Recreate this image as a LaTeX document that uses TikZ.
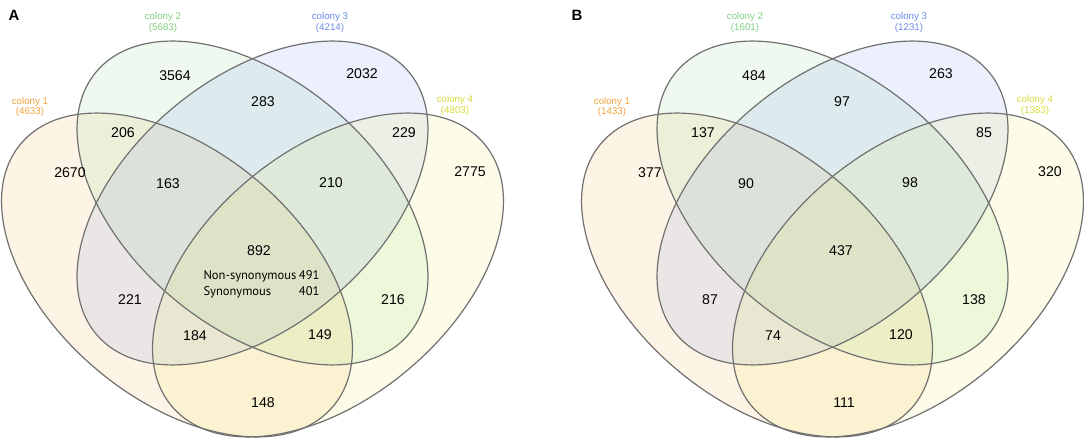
\documentclass[tikz,border=0pt]{standalone}
\usepackage{fontspec}
\setmainfont{Liberation Sans}
\newfontfamily\ptsans{PT Sans}

\definecolor{colA}{HTML}{F0A33A}
\definecolor{colB}{HTML}{7FCF80}
\definecolor{colC}{HTML}{6A8AE6}
\definecolor{colD}{HTML}{D8D83A}
\definecolor{fillA}{HTML}{F5A52A}
\definecolor{fillB}{HTML}{78D078}
\definecolor{fillC}{HTML}{5F85EE}
\definecolor{fillD}{HTML}{E6E640}
\definecolor{rim}{HTML}{707070}

% the four sets, same size, centres and tilts in px
\newcommand{\vennsets}{%
  \foreach \cx/\cy/\ang/\col in {177/167/-40/fillA, 252.5/239/-40/fillB, 252.5/239/40/fillC, 328/167/40/fillD}
    \fill[\col, fill opacity=0.12, shift={(\cx,\cy)}, rotate=\ang] (0,0) ellipse [x radius=204, y radius=124];
  \foreach \cx/\cy/\ang in {177/167/-40, 252.5/239/-40, 252.5/239/40, 328/167/40}
    \draw[rim, line width=0.9pt, shift={(\cx,\cy)}, rotate=\ang] (0,0) ellipse [x radius=204, y radius=124];
}

\begin{document}
\begin{tikzpicture}[x=0.75pt, y=0.75pt,
    num/.style={font=\fontsize{10.6}{12}\selectfont, inner sep=0pt},
    lab/.style={font=\fontsize{7.3}{7.9}\selectfont, align=center, inner sep=0pt},
    tag/.style={font=\bfseries\fontsize{11.2}{13}\selectfont, inner sep=0pt}]
\useasboundingbox (0,0) rectangle (1084,442);

% panel A
\begin{scope}
  \vennsets
  \node[tag] (A) at (14,427) {A};
  \node[lab, colA] (A-c1) at (30,335) {colony 1\\(4633)};
  \node[lab, colB] (A-c2) at (163,419.5) {colony 2\\(5683)};
  \node[lab, colC] (A-c3) at (330,419.5) {colony 3\\(4214)};
  \node[lab, colD] (A-c4) at (455,336.5) {colony 4\\(4803)};
  \foreach \reg/\x/\y/\v in {1/70/269/2670, 2/175/366/3564, 3/362/368/2032, 4/470/270/2775,
      12/123/309/206, 23/263/340/283, 34/404/309/229, 123/168/258/163, 234/331/259/210,
      13/130/142/221, 24/393/142/216, 134/195/106/184, 124/320/107/149, 14/263/39/148,
      1234/259/191/892}
    \node[num] (A\reg) at (\x,\y) {\v};
  \node[font=\ptsans\fontsize{9.4}{11.3}\selectfont, inner sep=0pt] (A-split) at (261.5,157.5)
    {\begin{tabular}{@{}l@{\hspace{2pt}}r@{}}Non-synonymous & 491\\ Synonymous & 401\end{tabular}};
\end{scope}

% panel B
\begin{scope}[shift={(580,0)}]
  \vennsets
  \node[tag] (B) at (-3,427) {B};
  \node[lab, colA] (B-c1) at (32,335) {colony 1\\(1433)};
  \node[lab, colB] (B-c2) at (165,419.5) {colony 2\\(1601)};
  \node[lab, colC] (B-c3) at (329,419.5) {colony 3\\(1231)};
  \node[lab, colD] (B-c4) at (455,336.5) {colony 4\\(1383)};
  \foreach \reg/\x/\y/\v in {1/70/269/377, 2/174/366/484, 3/361/368/263, 4/470/270/320,
      12/123/309/137, 23/262/340/97, 34/404/309/85, 123/166/258/90, 234/330/259/98,
      13/130/142/87, 24/394/142/138, 134/193/106/74, 124/321/107/120, 14/264/39/111,
      1234/261/191/437}
    \node[num] (B\reg) at (\x,\y) {\v};
\end{scope}
\end{tikzpicture}
\end{document}
